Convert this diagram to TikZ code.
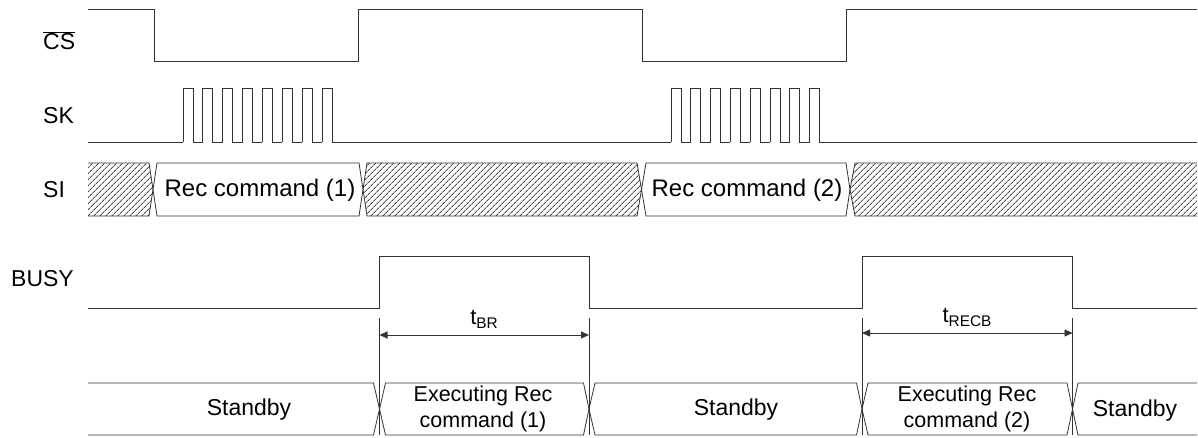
\documentclass[tikz,border=0pt]{standalone}
\usepackage{fontspec}
\setmainfont{Liberation Sans}
\usetikzlibrary{arrows.meta}
\usetikzlibrary{patterns,patterns.meta}
\usetikzlibrary{positioning}

\tikzset{
	wave/.style={draw=black!80, line width=0.8pt},
	hatch/.style={pattern={Lines[angle=45,distance=4pt,line width=0.9pt]}, pattern color=black!70},
	siglabel/.style={anchor=west, inner sep=0pt, font=\fontsize{23}{27}\selectfont},
	bustext/.style={font=\fontsize{21.5}{25.5}\selectfont, align=center},
	dim/.style={draw=black!80, line width=0.8pt, {Triangle[length=8pt,width=7pt]}-{Triangle[length=8pt,width=7pt]}}
}

\begin{document}
\begin{tikzpicture}[x=1pt,y=-1pt]
	\useasboundingbox (0,0) rectangle (1198,437);
	
	%labels
	\node[siglabel] (cs) at (43,41) {$\overline{\mbox{CS}}$};
	\node[siglabel] (sk) at (43,116) {SK};
	\node[siglabel] (si) at (43,190) {SI};
	\node[siglabel] (busy) at (11,279) {BUSY};
	
	%chip select
	\draw[wave] (88,9) -- (154,9) -- (154,61) -- (358,61) -- (358,9) -- (642,9) -- (642,61) -- (846,61) -- (846,9) -- (1197,9);
	
	%clock pulses
	\draw[wave] (88,142) -- (183,142);
	\foreach \i in {0,...,7}
		\draw[wave] ({183+19.85*\i},142) -- ++(0,-54) -- ++(10,0) -- ++(0,54) -- ++(9.85,0);
	\draw[wave] (341,142) -- (671,142);
	\foreach \i in {0,...,7}
		\draw[wave] ({671+19.8*\i},142) -- ++(0,-54) -- ++(10,0) -- ++(0,54) -- ++(9.8,0);
	\draw[wave] (829,142) -- (1197,142);
	
	%serial input
	\fill[hatch] (88,163) -- (149,163) -- (153,189.5) -- (149,216) -- (88,216) -- cycle;
	\draw[wave] (88,163) -- (149,163) -- (153,189.5) -- (149,216) -- (88,216);
	\draw[wave] (157,163) -- (359,163) -- (363,189.5) -- (359,216) -- (157,216) -- (153,189.5) -- cycle;
	\node[bustext, font=\fontsize{24}{28}\selectfont] (rec1) at (260,190) {Rec command (1)};
	\draw[wave, hatch] (367,163) -- (637,163) -- (641.5,189.5) -- (637,216) -- (367,216) -- (363,189.5) -- cycle;
	\draw[wave] (646,163) -- (846,163) -- (850,189.5) -- (846,216) -- (646,216) -- (641.5,189.5) -- cycle;
	\node[bustext, font=\fontsize{24}{28}\selectfont] (rec2) at (747,190) {Rec command (2)};
	\fill[hatch] (855,163) -- (1197,163) -- (1197,216) -- (855,216) -- (850,189.5) -- cycle;
	\draw[wave] (1197,163) -- (855,163) -- (850,189.5) -- (855,216) -- (1197,216);
	
	%busy
	\draw[wave] (88,308) -- (379.5,308) -- (379.5,256) -- (589,256) -- (589,308) -- (862,308) -- (862,256) -- (1072.5,256) -- (1072.5,308) -- (1197,308);
	
	% add arrow
	\coordinate (a1) at (379.5,318);
	\coordinate (a2) at (589,318);
	\coordinate (a3) at (862,318);
	\coordinate (a4) at (1072.5,318);
	\foreach \c in {a1,a2,a3,a4}
		\draw[wave] (\c) -- ++(0,117);
	\draw[dim] ([yshift=-17pt]a1) -- ([yshift=-17pt]a2) node[midway, above=3pt, font=\fontsize{22}{26}\selectfont] (tbr) {t\textsubscript{BR}};
	\draw[dim] ([yshift=-15pt]a3) -- ([yshift=-15pt]a4) node[midway, above=3pt, font=\fontsize{22}{26}\selectfont] (trecb) {t\textsubscript{RECB}};
	
	%state
	\draw[wave] (88,383) -- (373.5,383) -- (379.5,409) -- (373.5,435) -- (88,435);
	\draw[wave] (385.5,383) -- (583.5,383) -- (589,409) -- (583.5,435) -- (385.5,435) -- (379.5,409) -- cycle;
	\draw[wave] (595,383) -- (856.5,383) -- (862,409) -- (856.5,435) -- (595,435) -- (589,409) -- cycle;
	\draw[wave] (868,383) -- (1067,383) -- (1072.5,409) -- (1067,435) -- (868,435) -- (862,409) -- cycle;
	\draw[wave] (1197,383) -- (1078,383) -- (1072.5,409) -- (1078,435) -- (1197,435);
	\node[bustext, font=\fontsize{23}{27}\selectfont] (st1) at (249,410) {Standby};
	\node[bustext] (ex1) at (483,409) {Executing Rec\\command (1)};
	\node[bustext, font=\fontsize{23}{27}\selectfont] (st2) at (736,410) {Standby};
	\node[bustext] (ex2) at (967,409) {Executing Rec\\command (2)};
	\node[bustext, font=\fontsize{23}{27}\selectfont] (st3) at (1135,411) {Standby};
	
\end{tikzpicture}
\end{document}
